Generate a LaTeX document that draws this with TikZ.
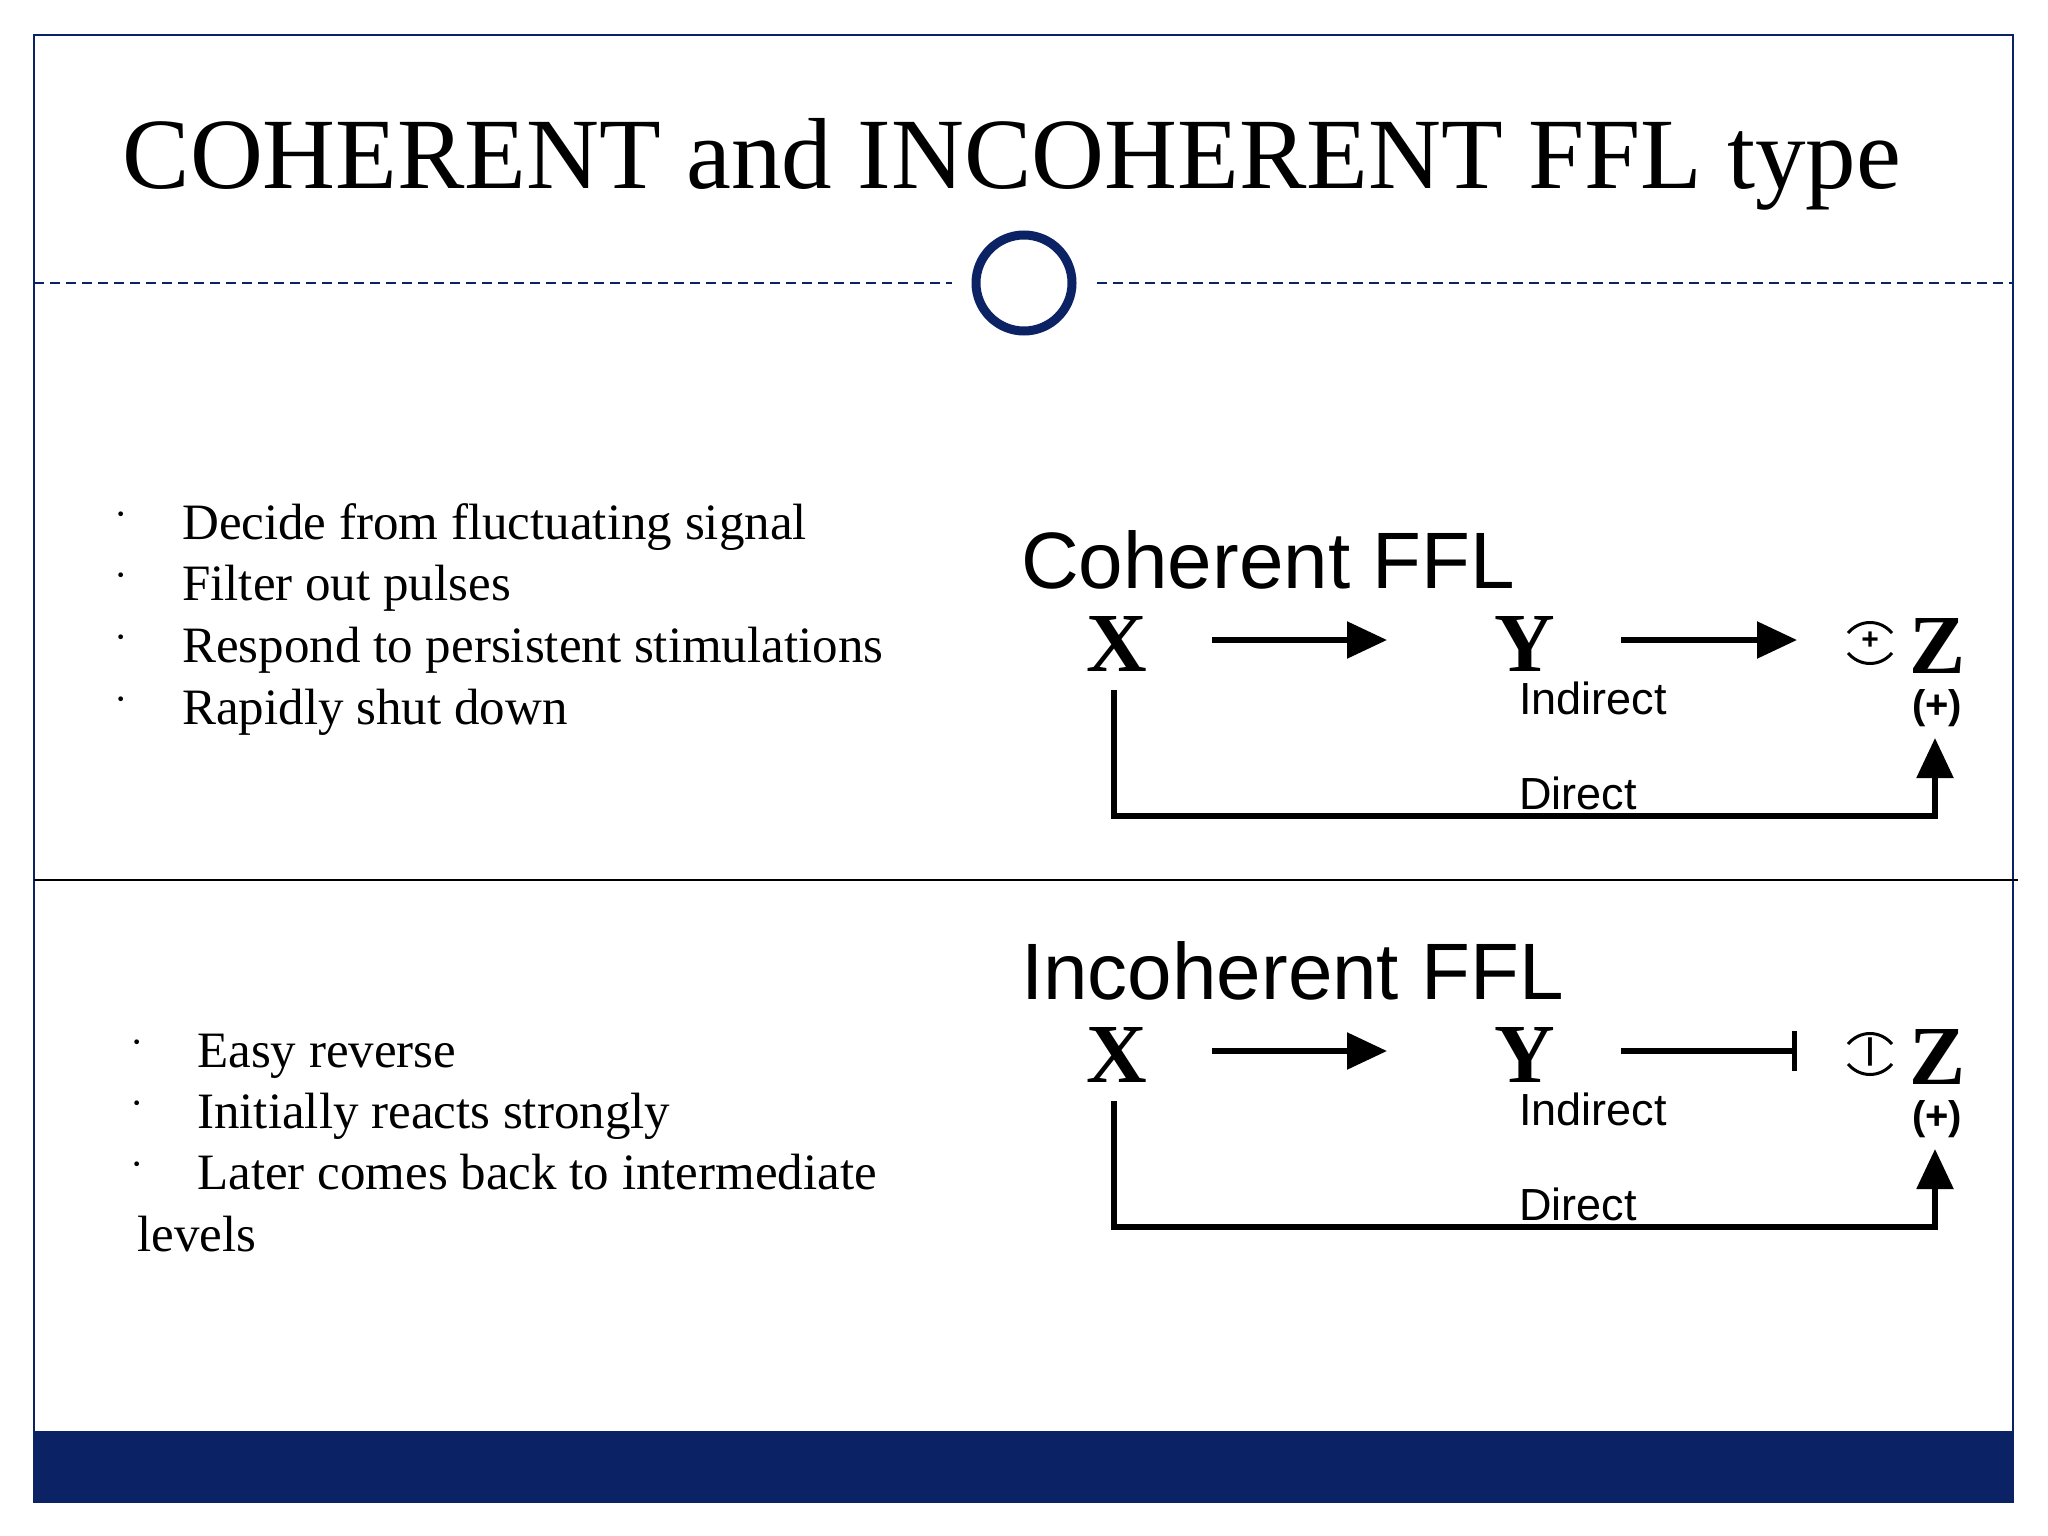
\documentclass[tikz,border=0pt]{standalone}
\usepackage{fontspec}
\setmainfont{Liberation Serif}
\newfontfamily\arial{Liberation Sans}
\usetikzlibrary{arrows.meta}
\definecolor{navy}{HTML}{0B2264}
\tikzset{
  bul/.style={anchor=base west,inner sep=0pt,font=\fontsize{51}{60}\selectfont},
  big/.style={font=\fontsize{84}{90}\selectfont\bfseries,inner sep=0pt},
  lab/.style={font=\arial\fontsize{45}{48}\selectfont,inner sep=0pt},
  conn/.style={line width=5.5pt},
  tipa/.style={-{Triangle[length=40pt,width=36pt]}},
  tipb/.style={-{Bar[width=40pt,line width=5pt]}}
}
\begin{document}
\begin{tikzpicture}[x=1pt,y=-1pt]
\useasboundingbox (0,0) rectangle (2048,1536);
\fill[white] (0,0) rectangle (2048,1536);
\draw[navy,line width=2pt] (34,35) rectangle (2013,1502);
\fill[navy] (34,1431) rectangle (2013,1502);
\node[anchor=base,inner sep=0pt,font=\fontsize{101}{110}\selectfont] (title) at (1012,189) {COHERENT and INCOHERENT FFL type};
\node[circle,draw=navy,line width=9pt,minimum size=96pt,inner sep=0pt] (ring) at (1024,283) {};
\draw[navy,line width=1.5pt,dash pattern=on 10pt off 6pt] (34,283) -- ([xshift=-20pt]ring.west);
\draw[navy,line width=1.5pt,dash pattern=on 10pt off 6pt] ([xshift=20pt]ring.east) -- (2013,283);
\draw[line width=1.5pt] (34,880) -- (2018,880);
% bullets 1
\foreach \t [count=\i from 0] in {Decide from fluctuating signal,Filter out pulses,Respond to persistent stimulations,Rapidly shut down}{
  \node[bul] (ba\i) at (182,{539+61.8*\i}) {\t};
  \node[bul,font=\fontsize{40}{40}\selectfont] (da\i) at (114,{527+61.8*\i}) {·};
}
\foreach \t [count=\i from 0] in {Easy reverse,Initially reacts strongly,Later comes back to intermediate}{
  \node[bul] (bb\i) at (197,{1067+61.3*\i}) {\t};
  \node[bul,font=\fontsize{40}{40}\selectfont] (db\i) at (130,{1055+61.3*\i}) {·};
}
\node[bul] (lev) at (137,1251) {levels};
% diagrams
\foreach \dy/\s/\t/\sym in {0/a/Coherent/+,411/b/Incoherent/|}{
  \node[anchor=base west,inner sep=0pt,font=\arial\fontsize{80}{84}\selectfont] (t\s) at (1021,{588+\dy}) {\t{} FFL};
  \node[big] (x\s) at (1117,{644+\dy}) {X};
  \node[big] (y\s) at (1525,{644+\dy}) {Y};
  \node[big] (z\s) at (1937,{646+\dy}) {Z};
  \coordinate (a1\s) at (1212,{640+\dy});
  \coordinate (a2\s) at (1387,{640+\dy});
  \coordinate (a3\s) at (1621,{640+\dy});
  \coordinate (a4\s) at (1797,{640+\dy});
  \draw[conn,tipa] (a1\s) -- (a2\s);
  \draw[conn,tip\s] (a3\s) -- (a4\s);
  \node[lab] (ind\s) at (1593,{698+\dy}) {Indirect};
  \node[lab,font=\arial\fontsize{40}{42}\selectfont\bfseries] (pl\s) at (1937,{708+\dy}) {(+)};
  \node[lab] (dir\s) at (1578,{793+\dy}) {Direct};
  \node[inner sep=0pt,font=\arial\bfseries\fontsize{30}{30}\selectfont] (s\s) at (1870,{641+\dy}) {\sym};
  \draw[line width=3pt] ([shift={(-22,-8)}]s\s.center) .. controls ([shift={(-10,-22)}]s\s.center) and ([shift={(10,-22)}]s\s.center) .. ([shift={(22,-8)}]s\s.center);
  \draw[line width=3pt] ([shift={(-22,12)}]s\s.center) .. controls ([shift={(-10,26)}]s\s.center) and ([shift={(10,26)}]s\s.center) .. ([shift={(22,12)}]s\s.center);
  \coordinate (c1\s) at (1114,{690+\dy});
  \coordinate (c2\s) at (1114,{816+\dy});
  \coordinate (c3\s) at (1935,{816+\dy});
  \coordinate (c4\s) at (1935,{738+\dy});
  \draw[conn,tipa] (c1\s) -- (c2\s) -- (c3\s) -- (c4\s);
}
\end{tikzpicture}
\end{document}
